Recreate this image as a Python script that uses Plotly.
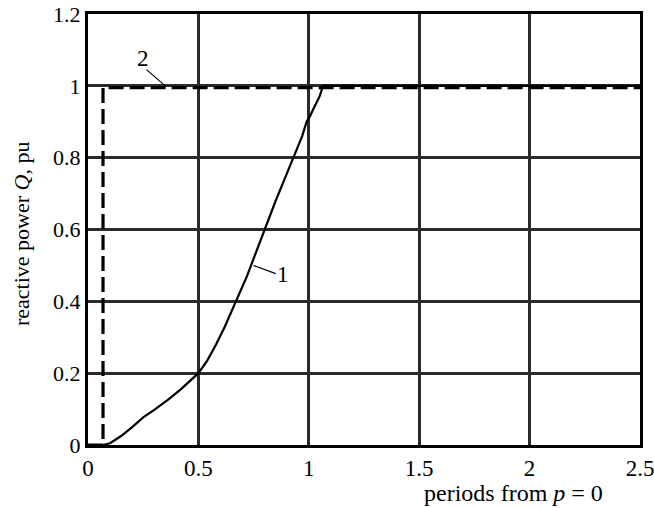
import plotly.graph_objects as go

# Curve 1 (solid)
x1 = [0.0, 0.068, 0.10, 0.15, 0.20, 0.25, 0.30, 0.36, 0.42, 0.47, 0.50, 0.54, 0.58, 0.62, 0.67, 0.72, 0.76,
      0.80, 0.85, 0.90, 0.94, 0.97, 0.99, 1.005, 1.02, 1.035, 1.05, 1.058, 1.063, 2.5]
y1 = [0.0, 0.0, 0.005, 0.025, 0.05, 0.077, 0.098, 0.125, 0.155, 0.183, 0.20, 0.235, 0.28, 0.33, 0.40, 0.47, 0.535,
      0.60, 0.68, 0.755, 0.815, 0.86, 0.90, 0.915, 0.935, 0.952, 0.972, 0.988, 1.0, 1.0]
# Curve 2 (dashed)
x2 = [0.0, 0.068, 0.068, 2.5]
y2 = [0.0, 0.0, 0.995, 0.995]

x_ticks = [0, 0.5, 1, 1.5, 2, 2.5]
x_tick_labels = ["0", "0.5", "1", "1.5", "2", "2.5"]
y_ticks = [0, 0.2, 0.4, 0.6, 0.8, 1.0, 1.2]
y_tick_labels = ["0", "0.2", "0.4", "0.6", "0.8", "1", "1.2"]

FONT = "Liberation Serif, Times New Roman, serif"

fig = go.Figure()
fig.add_trace(go.Scatter(x=x1, y=y1, mode="lines", line=dict(color="black", width=2.2),
                         showlegend=False, hoverinfo="skip"))
fig.add_trace(go.Scatter(x=x2, y=y2, mode="lines", line=dict(color="black", width=3.2, dash="15px,6px"),
                         showlegend=False, hoverinfo="skip"))

# Leader lines and labels
fig.add_trace(go.Scatter(x=[0.265, 0.35], y=[1.045, 1.0], mode="lines", line=dict(color="black", width=1.2),
                         showlegend=False, hoverinfo="skip"))
fig.add_trace(go.Scatter(x=[0.75, 0.85], y=[0.50, 0.477], mode="lines", line=dict(color="black", width=1.2),
                         showlegend=False, hoverinfo="skip"))
fig.add_annotation(x=0.25, y=1.075, text="2", showarrow=False, font=dict(family=FONT, size=23, color="black"))
fig.add_annotation(x=0.885, y=0.475, text="1", showarrow=False, font=dict(family=FONT, size=23, color="black"))

L, R, T, B = 88, 14, 14, 63
pw = 654 - L - R
ph = 508 - T - B

# Axis titles
fig.add_annotation(xref="paper", yref="paper", x=(22 - L) / pw, y=(445 - 234) / ph,
                   xanchor="center", yanchor="middle",
                   text="reactive power <i>Q</i>, pu", showarrow=False,
                   textangle=-90, font=dict(family=FONT, size=22, color="black"))
fig.add_annotation(xref="paper", yref="paper", x=(513 - L) / pw, y=(445 - 493) / ph,
                   xanchor="center", yanchor="middle",
                   text="periods from <i>p</i> = 0", showarrow=False,
                   font=dict(family=FONT, size=24, color="black"))

fig.update_layout(
    width=654, height=508,
    margin=dict(l=L, r=R, t=T, b=B),
    paper_bgcolor="white", plot_bgcolor="white",
    font=dict(family=FONT, size=22, color="black"),
    xaxis=dict(range=[0, 2.5], tickvals=x_ticks, ticktext=x_tick_labels, showgrid=True, gridcolor="#2a2a2a",
               gridwidth=2.5, zeroline=False, showline=True, linecolor="black", linewidth=3, mirror=True,
               ticks="", ticklen=0, tickfont=dict(family=FONT, size=23), automargin=False,
               ticklabeloverflow="allow"),
    yaxis=dict(range=[0, 1.2], tickvals=y_ticks, ticktext=y_tick_labels, showgrid=True, gridcolor="#2a2a2a",
               gridwidth=2.5, zeroline=False, showline=True, linecolor="black", linewidth=3, mirror=True,
               ticks="", ticklen=0, tickfont=dict(family=FONT, size=22), automargin=False,
               ticklabeloverflow="allow"),
)

fig.write_html("out.html")
